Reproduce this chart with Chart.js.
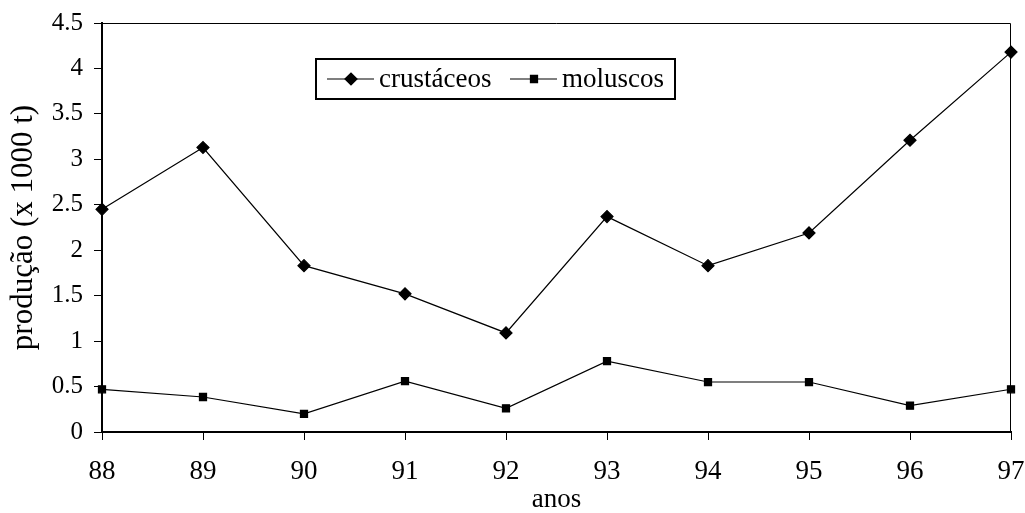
<!DOCTYPE html>
<html>
<head>
<meta charset="utf-8">
<script src="https://cdn.jsdelivr.net/npm/chart.js@4/dist/chart.umd.min.js"></script>
<style>
	html, body { margin: 0; padding: 0; background: #fff; }
	#wrap { width: 1025px; height: 513px; }
</style>
</head>
<body>
<div id="wrap"><canvas id="chart" width="1025" height="513"></canvas></div>
<script>
const anos = ["88", "89", "90", "91", "92", "93", "94", "95", "96", "97"];
const crustaceos = [2.45, 3.13, 1.83, 1.52, 1.09, 2.37, 1.83, 2.19, 3.21, 4.18];
const moluscos = [0.47, 0.385, 0.2, 0.56, 0.26, 0.78, 0.55, 0.55, 0.29, 0.47];
const yTicks = [0, 0.5, 1, 1.5, 2, 2.5, 3, 3.5, 4, 4.5];

const FONT = "'Liberation Serif', 'Times New Roman', serif";

// box around the plot plus the legend inside it
const frameAndLegend = {
	id: "frameAndLegend",
	afterDraw(chart) {
		const { ctx, chartArea: a } = chart;
		ctx.save();
		ctx.strokeStyle = "#000";
		ctx.lineWidth = 1;
		ctx.beginPath();
		ctx.moveTo(a.left, a.top + 0.5);
		ctx.lineTo(a.right - 0.5, a.top + 0.5);
		ctx.lineTo(a.right - 0.5, a.bottom);
		ctx.stroke();

		// legend box
		const bx = 316, by = 59, bw = 359, bh = 40;
		ctx.lineWidth = 2;
		ctx.fillStyle = "#fff";
		ctx.fillRect(bx, by, bw, bh);
		ctx.strokeRect(bx, by, bw, bh);
		ctx.font = "27px " + FONT;
		ctx.textBaseline = "middle";
		ctx.fillStyle = "#000";
		const cy = by + bh / 2;
		const items = [
			{ x: 327, label: chart.data.datasets[0].label, style: "rectRot", r: 6 },
			{ x: 510, label: chart.data.datasets[1].label, style: "rect", r: 5 },
		];
		items.forEach((it) => {
			ctx.lineWidth = 1.2;
			ctx.beginPath();
			ctx.moveTo(it.x, cy);
			ctx.lineTo(it.x + 47, cy);
			ctx.stroke();
			Chart.helpers.drawPoint(ctx, { pointStyle: it.style, radius: it.r, borderWidth: 1 }, it.x + 24, cy);
			ctx.fill();
			ctx.fillText(it.label, it.x + 52, cy + 1);
		});
		ctx.restore();
	},
};

new Chart(document.getElementById("chart"), {
	type: "line",
	data: {
		labels: anos,
		datasets: [
			{
				label: "crustáceos",
				data: crustaceos,
				borderColor: "#000",
				backgroundColor: "#000",
				borderWidth: 1.2,
				pointStyle: "rectRot",
				pointRadius: 6,
				tension: 0,
			},
			{
				label: "moluscos",
				data: moluscos,
				borderColor: "#000",
				backgroundColor: "#000",
				borderWidth: 1.2,
				pointStyle: "rect",
				pointRadius: 5,
				tension: 0,
			},
		],
	},
	options: {
		responsive: false,
		animation: false,
		layout: { padding: { left: 0, right: 14, top: 23, bottom: 0 } },
		plugins: {
			legend: { display: false },
			tooltip: { enabled: false },
		},
		scales: {
			x: {
				offset: false,
				grid: { display: true, drawOnChartArea: false, drawTicks: true, tickLength: 8, color: "#000" },
				border: { display: true, color: "#000", width: 2 },
				ticks: { color: "#000", font: { family: FONT, size: 27, lineHeight: 1.1 }, padding: 17, maxRotation: 0, autoSkip: false },
				title: { display: true, text: "anos", color: "#000", font: { family: FONT, size: 27, lineHeight: 1.0 }, padding: { top: 0, bottom: 0 } },
				afterFit(scale) {
					scale.height = 81;
					scale.paddingLeft = 0;
					scale.paddingRight = 0;
				},
			},
			y: {
				min: 0,
				max: 4.5,
				afterBuildTicks(scale) { scale.ticks = yTicks.map((v) => ({ value: v })); },
				grid: { display: true, drawOnChartArea: false, drawTicks: true, tickLength: 8, color: "#000" },
				border: { display: true, color: "#000", width: 2 },
				ticks: { color: "#000", font: { family: FONT, size: 25 }, padding: 11, callback: (v) => String(v) },
				title: { display: true, text: "produção (x 1000 t)", color: "#000", font: { family: FONT, size: 31 }, padding: { top: 5, bottom: 0 } },
				afterFit(scale) {
					scale.width = 102;
					scale.paddingTop = 0;
					scale.paddingBottom = 0;
				},
			},
		},
	},
	plugins: [frameAndLegend],
});
</script>
</body>
</html>
